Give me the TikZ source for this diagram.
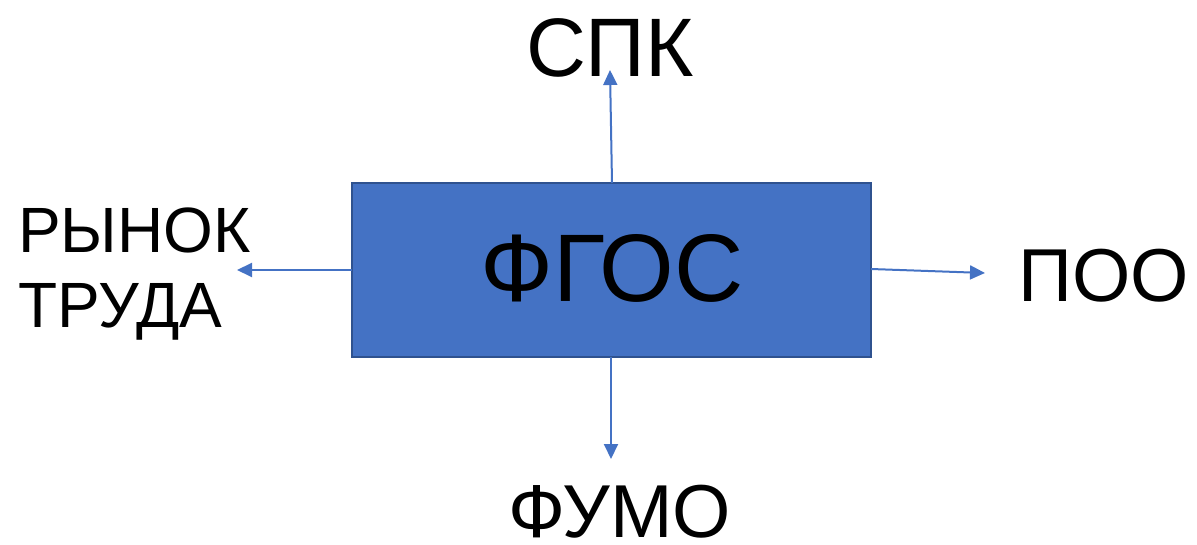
\documentclass[tikz,border=0pt]{standalone}
\usepackage{fontspec}
\setmainfont{Liberation Sans}
\usetikzlibrary{arrows.meta}
\definecolor{boxblue}{HTML}{4472C4}
\definecolor{boxedge}{HTML}{2F528F}
\tikzset{
  mainbox/.style={draw=boxedge, line width=1.5pt, fill=boxblue, minimum width=519pt, minimum height=174pt, inner sep=0pt},
  conn/.style={draw=boxblue, line width=2pt, -{Triangle[length=15pt,width=14pt]}},
  lbl/.style={inner sep=0pt, text=black}
}
\begin{document}
\begin{tikzpicture}[x=1pt,y=-1pt]
\useasboundingbox (0,0) rectangle (1197,545);
\node[mainbox] (fgos) at (611.5,270) {};
\node[lbl, anchor=base, font=\fontsize{96}{110}\selectfont] (fgost) at (612,302) {ФГОС};
\node[lbl, anchor=base, font=\fontsize{83}{95}\selectfont] (spk) at (610,77) {СПК};
\node[lbl, anchor=base, font=\fontsize{75}{90}\selectfont] (poo) at (1104,302) {ПОО};
\node[lbl, anchor=base, text depth=0pt, font=\fontsize{75}{90}\selectfont] (fumo) at (620,537) {ФУМО};
\node[lbl, anchor=base west, font=\fontsize{64}{75}\selectfont] (ryn) at (18,253) {РЫНОК};
\node[lbl, anchor=base west, font=\fontsize{64}{75}\selectfont] (trud) at (18,328) {ТРУДА};
\coordinate (upS) at (612,183);
\coordinate (upE) at (610,70);
\coordinate (lfS) at (352,270);
\coordinate (lfE) at (237,270);
\coordinate (rtS) at (871,269);
\coordinate (rtE) at (985,273);
\coordinate (dnS) at (611,357);
\coordinate (dnE) at (611,459);
\draw[conn] (upS) -- (upE);
\draw[conn] (lfS) -- (lfE);
\draw[conn] (rtS) -- (rtE);
\draw[conn] (dnS) -- (dnE);
\end{tikzpicture}
\end{document}
